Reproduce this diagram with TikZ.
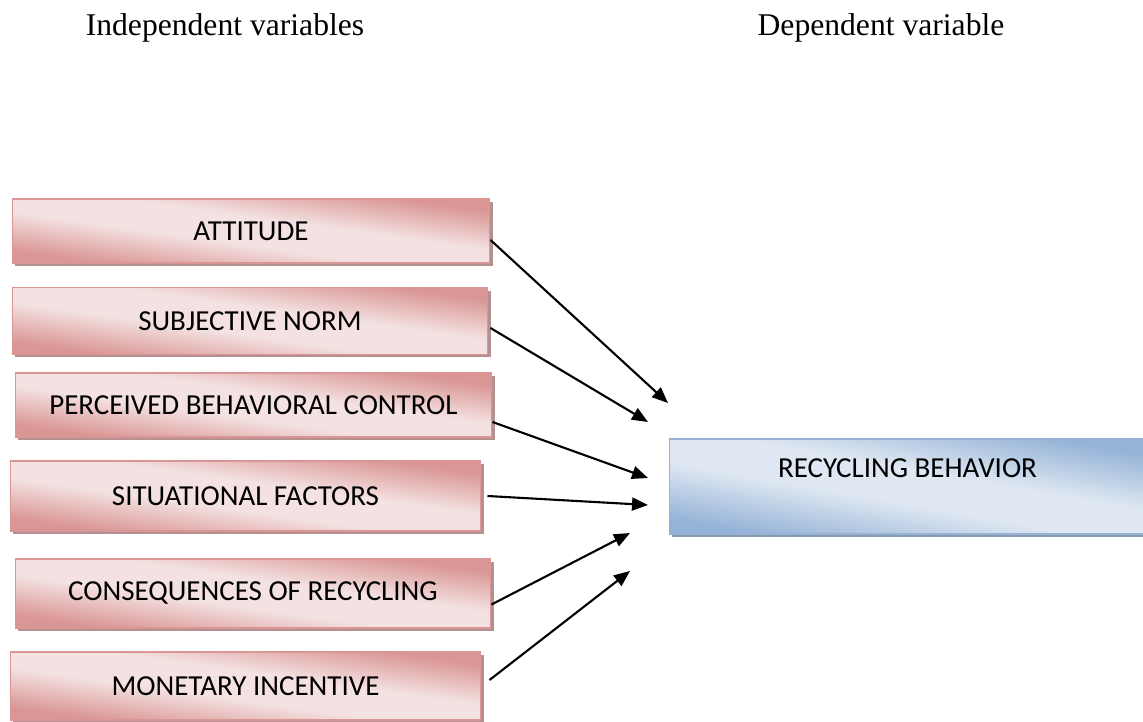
\documentclass[tikz,border=0pt]{standalone}
\usepackage{fontspec}
\setmainfont{Liberation Serif}
\newfontfamily\boxfont{Carlito}
\usetikzlibrary{arrows.meta,shadows}

\definecolor{pkdark}{HTML}{D99694}
\definecolor{pklight}{HTML}{F4E2E2}
\definecolor{pkshadow}{HTML}{B59090}
\definecolor{bldark}{HTML}{95B3D7}
\definecolor{bllight}{HTML}{DEE7F2}
\definecolor{blshadow}{HTML}{8A98AC}

\pgfdeclareverticalshading{pinkband}{100bp}{color(0bp)=(pkdark); color(27bp)=(pkdark);
  color(44bp)=(pklight); color(56bp)=(pklight); color(73bp)=(pkdark); color(100bp)=(pkdark)}
\pgfdeclareverticalshading{blueband}{100bp}{color(0bp)=(bldark); color(26bp)=(bldark);
  color(44bp)=(bllight); color(56bp)=(bllight); color(74bp)=(bldark); color(100bp)=(bldark)}

\tikzset{
  ivbox/.style={draw=pkdark, line width=0.6pt, shading=pinkband, shading angle=-8,
    inner sep=0pt, font=\boxfont\fontsize{16.5}{19}\selectfont,
    drop shadow={shadow xshift=0.06cm, shadow yshift=-0.06cm, opacity=1, fill=pkshadow}},
  dvbox/.style={draw=bldark, line width=0.6pt, shading=blueband, shading angle=-10,
    inner sep=0pt, font=\boxfont\fontsize{16.5}{19}\selectfont,
    drop shadow={shadow xshift=0.06cm, shadow yshift=-0.06cm, opacity=1, fill=blshadow}},
  heading/.style={font=\fontsize{18}{22}\selectfont},
  link/.style={line width=1.2pt, -{Triangle[length=0.32cm, width=0.26cm]}}
}

\begin{document}
\begin{tikzpicture}[x=0.02cm,y=-0.02cm]
    \useasboundingbox (0,0) rectangle (1143,722);

    \node[heading] (indep) at (225,28) {Independent variables};
    \node[heading] (dep) at (881,28) {Dependent variable};

    % independent variables
    \node[ivbox, minimum width=9.56cm, minimum height=1.28cm] (att) at (251,231) {ATTITUDE};
    \node[ivbox, minimum width=9.52cm, minimum height=1.34cm] (sub) at (250,321) {SUBJECTIVE NORM};
    \node[ivbox, minimum width=9.54cm, minimum height=1.28cm] (per) at (253.5,405) {PERCEIVED BEHAVIORAL CONTROL};
    \node[ivbox, minimum width=9.42cm, minimum height=1.40cm] (sit) at (245.5,496) {SITUATIONAL FACTORS};
    \node[ivbox, minimum width=9.52cm, minimum height=1.38cm] (con) at (253,593.5) {CONSEQUENCES OF RECYCLING};
    \node[ivbox, minimum width=9.42cm, minimum height=1.36cm] (mon) at (245.5,686) {MONETARY INCENTIVE};

    % dependent variable
    \node[dvbox, minimum width=9.54cm, minimum height=1.90cm, text height=0.4cm, text depth=0.74cm] (rec)
        at (907.5,486.5) {RECYCLING BEHAVIOR};

    % arrow ends
    \coordinate (t1) at (668,403);
    \coordinate (t2) at (648,422);
    \coordinate (t3) at (648,478);
    \coordinate (t4) at (648,505);
    \coordinate (t5) at (630,533);
    \coordinate (t6) at (630,571);

    \draw[link] ([shift={(0,9)}]att.east) -- (t1);
    \draw[link] ([shift={(2,7)}]sub.east) -- (t2);
    \draw[link] ([shift={(0,17)}]per.east) -- (t3);
    \draw[link] ([shift={(6,0)}]sit.east) -- (t4);
    \draw[link] ([shift={(0,11)}]con.east) -- (t5);
    \draw[link] ([shift={(8,-6)}]mon.east) -- (t6);
\end{tikzpicture}
\end{document}
